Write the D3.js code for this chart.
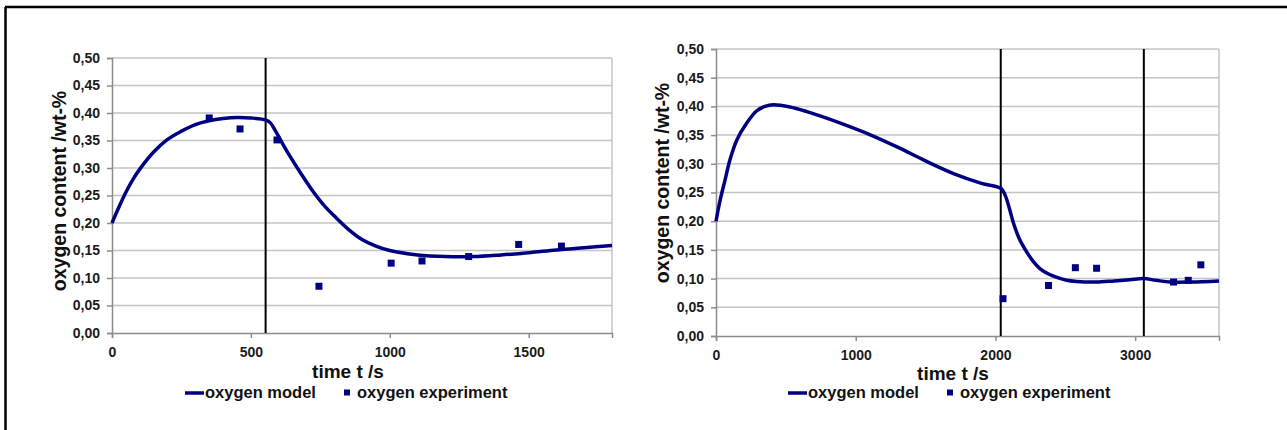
<!DOCTYPE html>
<html>
<head>
<meta charset="utf-8">
<script src="https://cdn.jsdelivr.net/npm/d3@7"></script>
<style>
body { margin: 0; background: #fff; }
svg { display: block; font-family: "Liberation Sans", Arial, sans-serif; }
.tick text { font-weight: bold; fill: #1a1a1a; }
</style>
</head>
<body>
<svg></svg>
<script>
// values
var yTicks = [0, 0.05, 0.10, 0.15, 0.20, 0.25, 0.30, 0.35, 0.40, 0.45, 0.50];

var leftXTicks = [0, 500, 1000, 1500];
var leftModelT = [0, 25, 50, 75, 100, 150, 200, 250, 300, 350, 400, 450, 500, 555, 570, 590, 610, 640, 680, 720, 760, 800, 850, 900, 950, 1000, 1100, 1200, 1300, 1400, 1500, 1600, 1700, 1800];
var leftModelO = [0.200, 0.229, 0.256, 0.279, 0.298, 0.329, 0.352, 0.367, 0.379, 0.386, 0.390, 0.392, 0.391, 0.387, 0.382, 0.366, 0.348, 0.322, 0.290, 0.260, 0.234, 0.213, 0.189, 0.170, 0.158, 0.150, 0.142, 0.139, 0.139, 0.142, 0.146, 0.151, 0.155, 0.159];
var leftExpT = [350, 461, 594, 745, 1005, 1116, 1284, 1464, 1618];
var leftExpO = [0.391, 0.371, 0.351, 0.085, 0.127, 0.131, 0.139, 0.161, 0.158];
var leftMarks = [553];

var rightXTicks = [0, 1000, 2000, 3000];
var rightModelT = [0, 30, 65, 100, 150, 220, 290, 350, 410, 530, 650, 750, 900, 1100, 1300, 1500, 1700, 1900, 2040, 2070, 2100, 2130, 2170, 2220, 2270, 2320, 2380, 2440, 2510, 2580, 2720, 2850, 2960, 3060, 3150, 3250, 3400, 3600];
var rightModelO = [0.200, 0.237, 0.272, 0.307, 0.342, 0.371, 0.392, 0.400, 0.403, 0.399, 0.391, 0.383, 0.370, 0.351, 0.329, 0.305, 0.283, 0.266, 0.257, 0.245, 0.222, 0.196, 0.170, 0.148, 0.130, 0.117, 0.108, 0.102, 0.097, 0.095, 0.094, 0.096, 0.098, 0.100, 0.097, 0.094, 0.094, 0.096];
var rightExpT = [2054, 2380, 2572, 2724, 3275, 3380, 3470];
var rightExpO = [0.065, 0.088, 0.119, 0.118, 0.094, 0.097, 0.124];
var rightMarks = [2038, 3062];

var navy = "#000082";
var svg = d3.select("svg").attr("width", 1287).attr("height", 430);

// outer frame (only top and left edges show in the picture)
svg.append("line").attr("x1", 5).attr("x2", 1287).attr("y1", 7).attr("y2", 7)
    .attr("stroke", "#000").attr("stroke-width", 2.5);
svg.append("line").attr("x1", 5.5).attr("x2", 5.5).attr("y1", 7).attr("y2", 430)
    .attr("stroke", "#000").attr("stroke-width", 2.5);

function drawPanel(p) {
    var x = d3.scaleLinear().domain([0, p.xMax]).range([p.left, p.right]);
    var y = d3.scaleLinear().domain([0, 0.5]).range([p.bottom, p.top]);
    var g = svg.append("g");

    // grid
    g.selectAll(".grid").data(yTicks.slice(1)).enter()
        .append("line")
        .attr("x1", p.left).attr("x2", p.right)
        .attr("y1", function (d) { return y(d); })
        .attr("y2", function (d) { return y(d); })
        .attr("stroke", "#c4c4c4").attr("stroke-width", 1.5);
    g.append("line").attr("x1", p.right).attr("x2", p.right)
        .attr("y1", p.top).attr("y2", p.bottom)
        .attr("stroke", "#c4c4c4").attr("stroke-width", 1.5);

    var yAxis = g.append("g")
        .attr("transform", "translate(" + p.left + ",0)")
        .call(d3.axisLeft(y).tickValues(yTicks).tickSize(5).tickPadding(7)
            .tickFormat(function (d) { return d3.format(".2f")(d).replace(".", ","); }));
    var xAxis = g.append("g")
        .attr("transform", "translate(0," + p.bottom + ")")
        .call(d3.axisBottom(x).tickValues(p.xTicks).tickSize(5).tickPadding(9)
            .tickFormat(d3.format("d")));
    [yAxis, xAxis].forEach(function (a) {
        a.select(".domain").attr("stroke", "#8c8c8c").attr("stroke-width", 1.5);
        a.selectAll(".tick line").attr("stroke", "#8c8c8c").attr("stroke-width", 1.5);
        a.selectAll(".tick text").style("font-size", "14px");
    });

    // vertical markers
    g.selectAll(".mark").data(p.marks).enter()
        .append("line")
        .attr("x1", function (d) { return x(d); })
        .attr("x2", function (d) { return x(d); })
        .attr("y1", p.top).attr("y2", p.bottom)
        .attr("stroke", "#000").attr("stroke-width", 2);

    // model line
    var pts = p.modelT.map(function (t, i) { return [t, p.modelO[i]]; });
    var line = d3.line()
        .x(function (d) { return x(d[0]); })
        .y(function (d) { return y(d[1]); })
        .curve(d3.curveCatmullRom.alpha(0.5));
    g.append("path").attr("d", line(pts))
        .attr("fill", "none").attr("stroke", navy).attr("stroke-width", 3.5)
        .attr("stroke-linejoin", "round");

    // experiment points
    var exp = p.expT.map(function (t, i) { return [t, p.expO[i]]; });
    g.selectAll(".pt").data(exp).enter()
        .append("rect")
        .attr("x", function (d) { return x(d[0]) - 3.5; })
        .attr("y", function (d) { return y(d[1]) - 3.5; })
        .attr("width", 7).attr("height", 7)
        .attr("fill", navy);

    // axis titles
    g.append("text")
        .attr("transform", "translate(" + p.yTitleX + "," + p.yTitleY + ") rotate(-90)")
        .attr("text-anchor", "middle")
        .style("font-size", "19.5px").style("font-weight", "bold").attr("fill", "#111")
        .text("oxygen content /wt-%");
    g.append("text")
        .attr("x", p.xTitleX).attr("y", p.xTitleY)
        .attr("text-anchor", "middle")
        .style("font-size", "19px").style("font-weight", "bold").attr("fill", "#111")
        .text("time t /s");

    // legend
    var ly = p.legendY;
    g.append("line").attr("x1", p.legendX).attr("x2", p.legendX + 19)
        .attr("y1", ly - 5).attr("y2", ly - 5)
        .attr("stroke", navy).attr("stroke-width", 3.5);
    g.append("text").attr("x", p.legendX + 20).attr("y", ly)
        .style("font-size", "16.5px").style("font-weight", "bold").attr("fill", "#111")
        .text("oxygen model");
    g.append("rect").attr("x", p.legendX + 159).attr("y", ly - 8.5)
        .attr("width", 6).attr("height", 6).attr("fill", navy);
    g.append("text").attr("x", p.legendX + 172).attr("y", ly)
        .style("font-size", "16.5px").style("font-weight", "bold").attr("fill", "#111")
        .text("oxygen experiment");
}

drawPanel({
    left: 112, right: 612, top: 58, bottom: 333, xMax: 1800, xTicks: leftXTicks,
    modelT: leftModelT, modelO: leftModelO, expT: leftExpT, expO: leftExpO, marks: leftMarks,
    yTitleX: 66, yTitleY: 191, xTitleX: 348, xTitleY: 378, legendX: 185, legendY: 398
});
drawPanel({
    left: 716, right: 1219, top: 49, bottom: 336, xMax: 3600, xTicks: rightXTicks,
    modelT: rightModelT, modelO: rightModelO, expT: rightExpT, expO: rightExpO, marks: rightMarks,
    yTitleX: 669, yTitleY: 183, xTitleX: 953, xTitleY: 380, legendX: 788, legendY: 398
});
</script>
</body>
</html>
